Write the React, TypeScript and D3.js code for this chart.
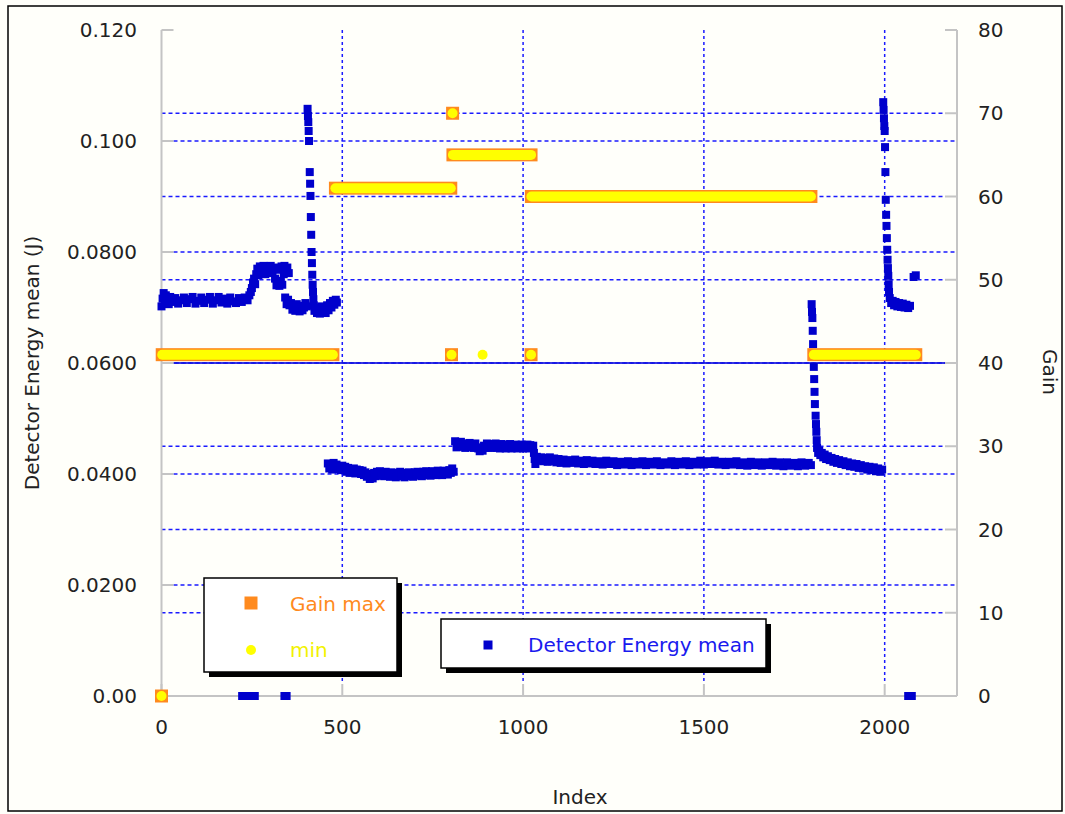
import React from "react";
import * as d3 from "d3";

// ---------- DATA ----------
// Detector Energy mean (J) vs Index : [index, value]
const detectorEnergy: [number, number][] = [
  // segment 0 - 485
  [0, 0.0702], [3, 0.0716], [6, 0.0726], [9, 0.0708], [12, 0.0722], [16, 0.0712], [20, 0.0706], [24, 0.0719],
  [30, 0.071], [38, 0.0717], [46, 0.0707], [54, 0.0713], [62, 0.0718], [70, 0.0708], [78, 0.0715], [86, 0.0719],
  [94, 0.0707], [102, 0.0712], [110, 0.0718], [118, 0.0708], [126, 0.0714], [134, 0.0719], [142, 0.0707],
  [150, 0.0713], [158, 0.0719], [166, 0.0709], [174, 0.0716], [182, 0.0707], [190, 0.0718], [198, 0.0711],
  [206, 0.0708], [214, 0.0717], [222, 0.071], [230, 0.0718], [238, 0.0713], [243, 0.0722], [247, 0.0728],
  [250, 0.0735], [253, 0.0745], [256, 0.0752], [259, 0.0742], [262, 0.076], [265, 0.077], [268, 0.0758],
  [272, 0.0774], [277, 0.0762], [282, 0.0775], [287, 0.076], [292, 0.0772], [297, 0.0764], [302, 0.0775],
  [307, 0.0762], [311, 0.077], [314, 0.0752], [318, 0.074], [322, 0.0746], [326, 0.0739], [330, 0.0748],
  [334, 0.0741], [338, 0.076], [316, 0.0772], [324, 0.0768], [332, 0.0774], [340, 0.0775], [344, 0.0765],
  [348, 0.0772], [352, 0.0762],
  [342, 0.0718], [346, 0.0706], [350, 0.0714], [354, 0.0704], [358, 0.0708], [362, 0.0696], [366, 0.0702],
  [370, 0.0694], [374, 0.0706], [378, 0.0697], [382, 0.0693], [386, 0.0703], [390, 0.0695], [394, 0.07],
  [398, 0.0708], [402, 0.0702],
  [404, 0.1058], [405, 0.1045], [406, 0.1034], [407, 0.1018], [408, 0.1], [410, 0.0944], [411, 0.0923],
  [412, 0.0901], [413, 0.0863], [414, 0.0831], [415, 0.08], [416, 0.078], [417, 0.0759], [418, 0.0741],
  [419, 0.0728], [420, 0.0715], [421, 0.0704], [423, 0.0694],
  [426, 0.07], [430, 0.069], [434, 0.0697], [438, 0.0689], [442, 0.0702], [446, 0.0693], [450, 0.0699],
  [454, 0.069], [458, 0.0704], [462, 0.0695], [466, 0.0708], [470, 0.07], [474, 0.0712], [478, 0.0705],
  [482, 0.0714], [485, 0.0709],
  // zero readings
  [223, 0], [232, 0], [241, 0], [250, 0], [258, 0], [340, 0], [346, 0], [2065, 0], [2075, 0],
  // segment 460 - 810
  [460, 0.0419], [464, 0.041], [468, 0.0416], [472, 0.0408], [476, 0.042], [480, 0.0411], [484, 0.0417],
  [488, 0.0409], [492, 0.0414], [496, 0.0407], [500, 0.0415], [504, 0.0408], [508, 0.0413], [512, 0.0404],
  [516, 0.0411], [520, 0.0402], [524, 0.0409], [528, 0.0403], [532, 0.041], [536, 0.0401], [540, 0.0408],
  [544, 0.0402], [548, 0.0407], [552, 0.04], [556, 0.0406], [560, 0.0398], [564, 0.0403], [568, 0.0395],
  [572, 0.04], [576, 0.0391], [580, 0.0397], [584, 0.0392], [588, 0.0402], [592, 0.0396], [596, 0.0404],
  [600, 0.0397], [604, 0.0405], [608, 0.0398], [612, 0.0403], [616, 0.0396], [620, 0.0404], [624, 0.0397],
  [628, 0.0402], [632, 0.0395], [636, 0.0403], [640, 0.0396], [644, 0.0401], [648, 0.0394], [652, 0.0402],
  [656, 0.0396], [660, 0.0404], [664, 0.0397], [668, 0.0401], [672, 0.0394], [676, 0.0402], [680, 0.0396],
  [684, 0.0403], [688, 0.0397], [692, 0.0401], [696, 0.0395], [700, 0.0403], [704, 0.0397], [708, 0.0404],
  [712, 0.0398], [716, 0.0402], [720, 0.0396], [724, 0.0404], [728, 0.0398], [732, 0.0405], [736, 0.0398],
  [740, 0.0403], [744, 0.0397], [748, 0.0405], [752, 0.0399], [756, 0.0404], [760, 0.0398], [764, 0.0406],
  [768, 0.0399], [772, 0.0404], [776, 0.0398], [780, 0.0406], [784, 0.04], [788, 0.0405], [792, 0.0399],
  [796, 0.0407], [800, 0.0402], [804, 0.041], [808, 0.0404],
  // segment 812 - 1028
  [812, 0.0459], [816, 0.0448], [820, 0.0456], [824, 0.045], [828, 0.0458], [832, 0.0449], [836, 0.0455],
  [840, 0.0447], [844, 0.0454], [848, 0.0449], [852, 0.0456], [856, 0.0448], [860, 0.0453], [864, 0.0447],
  [868, 0.0455], [872, 0.0448], [876, 0.0446], [880, 0.0441], [884, 0.0444], [888, 0.0442], [892, 0.0451],
  [896, 0.0447], [900, 0.0455], [904, 0.0448], [908, 0.0454], [912, 0.0447], [916, 0.0453], [920, 0.0448],
  [924, 0.0455], [928, 0.0447], [932, 0.0452], [936, 0.0446], [940, 0.0454], [944, 0.0448], [948, 0.0453],
  [952, 0.0446], [956, 0.0452], [960, 0.0447], [964, 0.0454], [968, 0.0446], [972, 0.0452], [976, 0.0447],
  [980, 0.0453], [984, 0.0446], [988, 0.0451], [992, 0.0447], [996, 0.0453], [1000, 0.0446], [1004, 0.0452],
  [1008, 0.0447], [1012, 0.0453], [1016, 0.0446], [1020, 0.0452], [1024, 0.0447], [1028, 0.0451],
  // segment 1030 - 1796
  [1030, 0.0438], [1032, 0.0427], [1034, 0.0418], [1038, 0.0431], [1044, 0.0424], [1050, 0.043],
  [1056, 0.0423], [1062, 0.0429], [1068, 0.0422], [1074, 0.043], [1080, 0.0423], [1086, 0.0428],
  [1092, 0.0421], [1098, 0.0427], [1104, 0.042], [1112, 0.0426], [1120, 0.0419], [1128, 0.0425],
  [1136, 0.042], [1144, 0.0426], [1152, 0.0419], [1160, 0.0424], [1168, 0.0418], [1176, 0.0425],
  [1184, 0.0419], [1192, 0.0424], [1200, 0.0418], [1210, 0.0423], [1220, 0.0417], [1230, 0.0424],
  [1240, 0.0418], [1250, 0.0423], [1260, 0.0416], [1270, 0.0422], [1280, 0.0417], [1290, 0.0423],
  [1300, 0.0416], [1310, 0.0422], [1320, 0.0417], [1330, 0.0423], [1340, 0.0416], [1350, 0.0422],
  [1360, 0.0417], [1370, 0.0423], [1380, 0.0416], [1390, 0.0421], [1400, 0.0417], [1410, 0.0423],
  [1420, 0.0416], [1430, 0.0422], [1440, 0.0417], [1450, 0.0423], [1460, 0.0416], [1470, 0.0422],
  [1480, 0.0417], [1490, 0.0424], [1500, 0.0417], [1510, 0.0423], [1520, 0.0418], [1530, 0.0424],
  [1540, 0.0417], [1550, 0.0422], [1560, 0.0416], [1570, 0.0422], [1580, 0.0417], [1590, 0.0423],
  [1600, 0.0416], [1610, 0.0421], [1620, 0.0415], [1630, 0.0422], [1640, 0.0416], [1650, 0.0421],
  [1660, 0.0415], [1670, 0.0421], [1680, 0.0416], [1690, 0.0422], [1700, 0.0415], [1710, 0.0421],
  [1720, 0.0414], [1730, 0.0421], [1740, 0.0415], [1750, 0.042], [1760, 0.0414], [1770, 0.0421],
  [1780, 0.0415], [1790, 0.042], [1796, 0.0416],
  // spike near 1800 and decay
  [1798, 0.0706], [1799, 0.0692], [1800, 0.0681], [1801, 0.0658], [1802, 0.0634], [1803, 0.0613],
  [1804, 0.0593], [1805, 0.0571], [1806, 0.0548], [1807, 0.0526], [1809, 0.0505], [1810, 0.049],
  [1811, 0.0476], [1812, 0.0461], [1813, 0.0447],
  [1816, 0.0438], [1819, 0.0442], [1822, 0.0434], [1826, 0.0438], [1830, 0.043], [1834, 0.0435],
  [1838, 0.0427], [1843, 0.0432], [1848, 0.0425], [1853, 0.0429], [1858, 0.0422], [1863, 0.0427],
  [1868, 0.042], [1874, 0.0425], [1880, 0.0418], [1886, 0.0423], [1892, 0.0416], [1898, 0.0421],
  [1904, 0.0414], [1910, 0.0419], [1916, 0.0413], [1922, 0.0418], [1928, 0.0411], [1934, 0.0416],
  [1940, 0.041], [1946, 0.0414], [1952, 0.0408], [1958, 0.0413], [1964, 0.0407], [1970, 0.0412],
  [1976, 0.0405], [1982, 0.041], [1988, 0.0404], [1993, 0.0408],
  // spike near 2000 and decay
  [1996, 0.107], [1997, 0.1056], [1998, 0.1041], [1999, 0.1027], [2000, 0.1018], [2001, 0.0989],
  [2002, 0.0944], [2003, 0.0894], [2004, 0.0867], [2005, 0.0847], [2006, 0.0825], [2007, 0.0804],
  [2008, 0.0786], [2009, 0.0771], [2010, 0.0757], [2011, 0.0742], [2012, 0.0728],
  [2014, 0.0717], [2018, 0.0708], [2022, 0.0712], [2026, 0.0704], [2030, 0.071], [2035, 0.0702],
  [2040, 0.0708], [2045, 0.0701], [2050, 0.0707], [2055, 0.07], [2060, 0.0705], [2065, 0.0699],
  [2070, 0.0703],
  [2080, 0.0755], [2086, 0.0758],
];

// Gain max runs: [startIndex, endIndex, gain]
const gainMaxRuns: [number, number, number][] = [
  [0, 0, 0], [2, 474, 41], [481, 800, 61], [805, 805, 70], [802, 802, 41],
  [806, 1022, 65], [1022, 1022, 41], [1023, 1796, 60], [1804, 2086, 41],
];
// Gain min runs: [startIndex, endIndex, gain]
const gainMinRuns: [number, number, number][] = [
  [0, 0, 0], [2, 474, 41], [481, 800, 61], [805, 805, 70], [802, 802, 41],
  [806, 1022, 65], [1022, 1022, 41], [888, 888, 41], [1023, 1796, 60], [1804, 2086, 41],
];

const leftTicks = [0, 0.02, 0.04, 0.06, 0.08, 0.1, 0.12];
const leftTickLabels = ["0.00", "0.0200", "0.0400", "0.0600", "0.0800", "0.100", "0.120"];
const rightTicks = [0, 10, 20, 30, 40, 50, 60, 70, 80];
const xTicks = [0, 500, 1000, 1500, 2000];

// ---------- LAYOUT ----------
const W = 1065;
const H = 814;
const L = 161.5;
const R = 957;
const T = 30;
const B = 696;
const FONT = "DejaVu Sans";
const FS = 20;
const GRID = "#1a1aff";
const AXIS = "#c4c4c4";
const ORANGE = "#ff8a1e";
const YELLOW = "#ffff00";
const BLUE = "#0000cc";
const TEXT = "#222222";

export default function App() {
  const x = d3.scaleLinear().domain([0, 2200]).range([L, R]);
  const yL = d3.scaleLinear().domain([0, 0.12]).range([B, T]);
  const yR = d3.scaleLinear().domain([0, 80]).range([B, T]);

  const leftGridY = leftTicks.filter((v) => v > 0 && v < 0.12).map((v) => yL(v));
  const rightGridY = rightTicks.filter((v) => v > 0 && v < 80).map((v) => yR(v));
  const shared = leftGridY.filter((y) => rightGridY.some((r) => Math.abs(r - y) < 0.5));

  const ms = 8; // detector marker size
  const gs = 13; // gain square size
  const gm = 10; // gain min diameter

  return (
    <svg
      width={W}
      height={H}
      style={{ position: "absolute", left: 0, top: 0, display: "block" }}
      fontFamily={FONT}
    >
      <rect x={0} y={0} width={W} height={H} fill="#fffffa" />
      <rect x={8} y={6} width={W - 11} height={H - 9} fill="none" stroke="#000" strokeWidth={1.5} />

      {/* vertical grid */}
      {xTicks.filter((t) => t > 0).map((t) => (
        <line key={"vx" + t} x1={x(t)} x2={x(t)} y1={T} y2={B - 12} stroke={GRID} strokeWidth={1.5} strokeDasharray="3 3" />
      ))}
      {/* left-axis grid */}
      {leftGridY.map((y, i) => (
        <line key={"gl" + i} x1={L + 12} x2={R} y1={y} y2={y} stroke={GRID} strokeWidth={1.5} strokeDasharray="4 3" />
      ))}
      {/* right-axis grid */}
      {rightGridY.map((y, i) => (
        <line key={"gr" + i} x1={L} x2={R - 12} y1={y} y2={y} stroke={GRID} strokeWidth={1.5} strokeDasharray="4 3" />
      ))}
      {shared.map((y, i) => (
        <line key={"gs" + i} x1={L + 12} x2={R - 12} y1={y} y2={y} stroke="#1010dd" strokeWidth={1.6} />
      ))}

      {/* axes */}
      <line x1={L} x2={L} y1={T} y2={B} stroke={AXIS} strokeWidth={2} />
      <line x1={R} x2={R} y1={T} y2={B} stroke={AXIS} strokeWidth={2} />
      <line x1={L} x2={R} y1={B} y2={B} stroke={AXIS} strokeWidth={2} />
      {leftTicks.map((t) => (
        <line key={"lt" + t} x1={L} x2={L + 12} y1={yL(t)} y2={yL(t)} stroke={AXIS} strokeWidth={2} />
      ))}
      {rightTicks.map((t) => (
        <line key={"rt" + t} x1={R - 12} x2={R} y1={yR(t)} y2={yR(t)} stroke={AXIS} strokeWidth={2} />
      ))}
      {xTicks.map((t) => (
        <line key={"xt" + t} x1={x(t)} x2={x(t)} y1={B - 12} y2={B} stroke={AXIS} strokeWidth={2} />
      ))}

      {/* tick labels */}
      {leftTicks.map((t, i) => (
        <text key={"ll" + t} x={137} y={yL(t)} dy="0.36em" textAnchor="end" fontSize={FS} fill={TEXT}>
          {leftTickLabels[i]}
        </text>
      ))}
      {rightTicks.map((t) => (
        <text key={"rl" + t} x={978} y={yR(t)} dy="0.36em" textAnchor="start" fontSize={FS} fill={TEXT}>
          {String(t)}
        </text>
      ))}
      {xTicks.map((t) => (
        <text key={"xl" + t} x={x(t)} y={734} textAnchor="middle" fontSize={FS} fill={TEXT}>
          {String(t)}
        </text>
      ))}

      {/* axis titles */}
      <text transform={`translate(39,${(T + B) / 2}) rotate(-90)`} textAnchor="middle" fontSize={FS} fill={TEXT}>
        Detector Energy mean (J)
      </text>
      <text transform={`translate(1043,372) rotate(90)`} textAnchor="middle" fontSize={FS} fill={TEXT}>
        Gain
      </text>
      <text x={580} y={804} textAnchor="middle" fontSize={FS} fill={TEXT}>
        Index
      </text>

      {/* detector energy markers */}
      {detectorEnergy.map(([i, v], k) => (
        <rect key={"d" + k} x={x(i) - ms / 2} y={yL(v) - ms / 2} width={ms} height={ms} fill={BLUE} />
      ))}

      {/* gain max */}
      {gainMaxRuns.map(([s, e, g], k) => (
        <rect key={"gx" + k} x={x(s) - gs / 2} y={yR(g) - gs / 2} width={x(e) - x(s) + gs} height={gs} fill={ORANGE} />
      ))}
      {/* gain min */}
      {gainMinRuns.map(([s, e, g], k) => (
        <rect key={"gn" + k} x={x(s) - gm / 2} y={yR(g) - gm / 2} width={x(e) - x(s) + gm} height={gm} rx={gm / 2} fill={YELLOW} />
      ))}

      {/* legend 1 */}
      <rect x={209} y={583} width={193} height={94} fill="#000" />
      <rect x={204} y={578} width={193} height={94} fill="#fff" stroke="#000" strokeWidth={1.5} />
      <rect x={251 - 6.5} y={603 - 6.5} width={13} height={13} fill={ORANGE} />
      <text x={290} y={611} fontSize={FS} fill={ORANGE}>Gain max</text>
      <circle cx={251} cy={650} r={5} fill={YELLOW} />
      <text x={290} y={657} fontSize={FS} fill="#f2f200">min</text>

      {/* legend 2 */}
      <rect x={446} y={624} width={325} height={49} fill="#000" />
      <rect x={441} y={619} width={325} height={49} fill="#fff" stroke="#000" strokeWidth={1.5} />
      <rect x={488 - 4.5} y={645 - 4.5} width={9} height={9} fill={BLUE} />
      <text x={528} y={652} fontSize={FS} fill="#1a1aee">Detector Energy mean</text>
    </svg>
  );
}
